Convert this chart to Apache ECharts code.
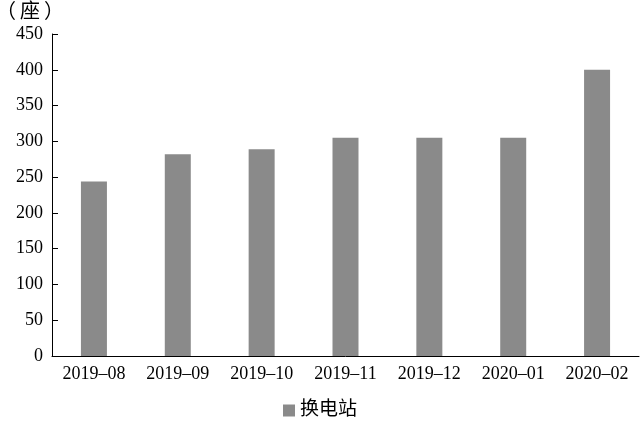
<!DOCTYPE html>
<html>
<head>
<meta charset="utf-8">
<script src="https://cdn.jsdelivr.net/npm/echarts@6/dist/echarts.min.js"></script>
<style>
  html, body { margin: 0; padding: 0; background: #fff; }
  #chart { width: 640px; height: 427px; }
</style>
</head>
<body>
<div id="chart"></div>
<script>
// 换电站数量（座）
var months = ['2019–08', '2019–09', '2019–10', '2019–11', '2019–12', '2020–01', '2020–02'];
var stations = [244, 282, 289, 305, 305, 305, 400];
var yTicks = [0, 50, 100, 150, 200, 250, 300, 350, 400, 450];

var FONT = '"Liberation Serif", "Noto Sans CJK SC", serif';

var chart = echarts.init(document.getElementById('chart'));
chart.setOption({
  animation: false,
  backgroundColor: '#fff',
  textStyle: { fontFamily: FONT, color: '#000' },
  graphic: [{
    type: 'text',
    left: -4,
    top: 0,
    style: { text: '（\u2009座\u2009）', fontSize: 20, fontFamily: '"Noto Sans CJK SC"', fill: '#000' }
  }],
  legend: {
    bottom: 2,
    left: 'center',
    itemWidth: 12,
    itemHeight: 12,
    itemGap: 6,
    textStyle: { fontSize: 19, fontFamily: FONT, color: '#000' },
    data: [{ name: '换电站', icon: 'rect' }]
  },
  grid: { left: 52, right: 1, top: 34, bottom: 71, containLabel: false },
  xAxis: {
    type: 'category',
    data: months,
    axisLine: { lineStyle: { color: '#000', width: 1 } },
    axisTick: { inside: true, length: 6, lineStyle: { color: '#000' } },
    axisLabel: { color: '#000', fontSize: 18, fontFamily: FONT, margin: 9, interval: 0 },
    splitLine: { show: false }
  },
  yAxis: {
    type: 'value',
    min: yTicks[0],
    max: yTicks[yTicks.length - 1],
    interval: 50,
    axisLine: { show: true, lineStyle: { color: '#000', width: 1 } },
    axisTick: { show: true, inside: true, length: 6, lineStyle: { color: '#000' } },
    axisLabel: { color: '#000', fontSize: 18, fontFamily: FONT, margin: 9 },
    splitLine: { show: false }
  },
  series: [{
    name: '换电站',
    type: 'bar',
    data: stations,
    barWidth: '31%',
    itemStyle: { color: '#8a8a8a' }
  }]
});
</script>
</body>
</html>
